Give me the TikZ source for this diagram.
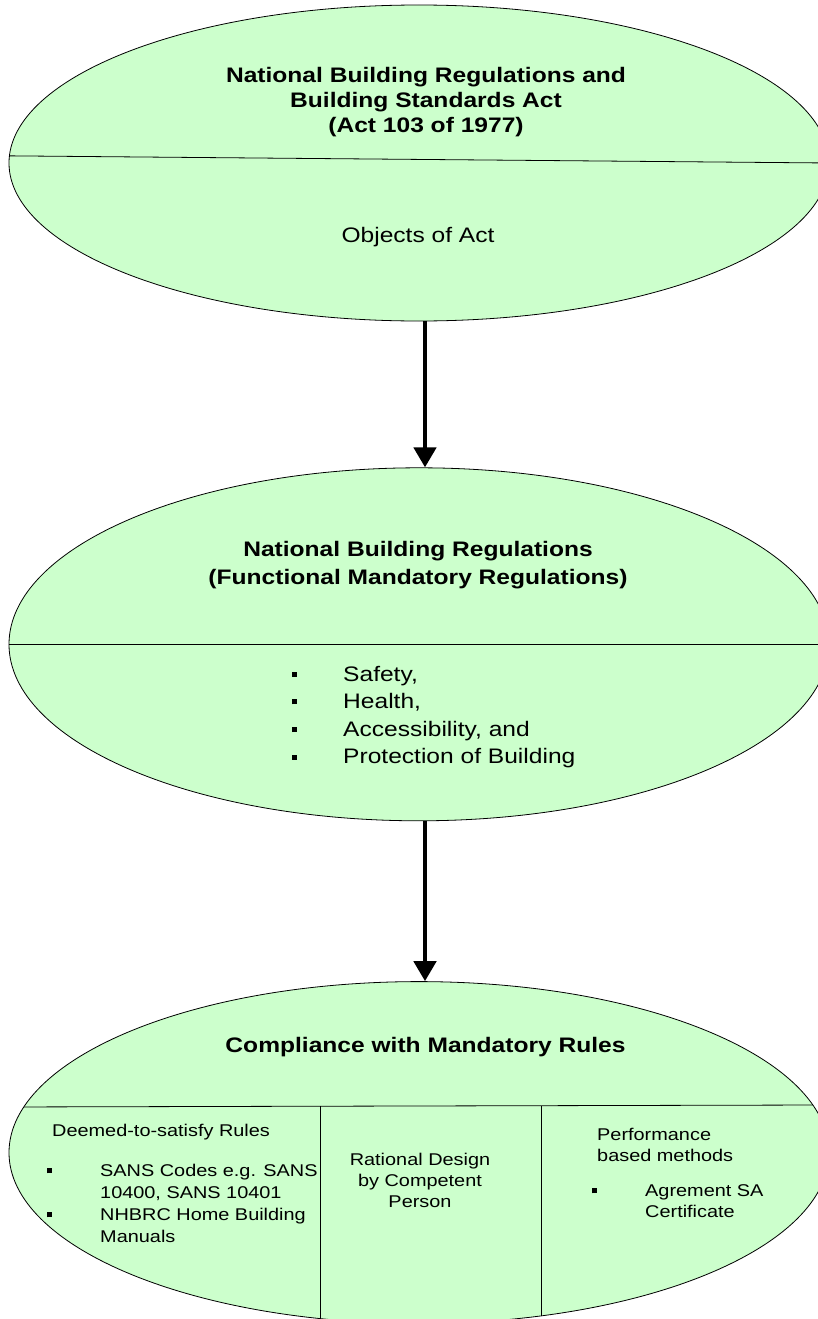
\documentclass[tikz,border=0pt]{standalone}
\usepackage{fontspec}
\setmainfont{Liberation Sans}[FakeStretch=1.17]
\usetikzlibrary{shapes.geometric,arrows.meta,positioning}
\definecolor{ellgreen}{RGB}{204,255,204}
\newcommand{\sqbul}[1]{\makebox[#1][l]{\rule[0.2em]{5pt}{5pt}}}

\begin{document}
\begin{tikzpicture}[x=1pt, y=-1pt,
    oval/.style={ellipse, draw, fill=ellgreen, line width=0.8pt, inner sep=0pt, minimum width=820pt},
    bigtxt/.style={font=\fontsize{21}{25}\selectfont\bfseries, align=center, anchor=base, inner sep=0pt},
    midtxt/.style={font=\fontsize{21}{27.6}\selectfont, align=left, anchor=base west, inner sep=0pt},
    smalltxt/.style={font=\fontsize{17}{22}\selectfont, align=left, anchor=base west, inner sep=0pt},
    bigarrow/.style={line width=4.5pt, -{Triangle[length=20pt,width=22pt]}}]
  \useasboundingbox (0,0) rectangle (818,1319);

  \node[oval, minimum height=316pt] (act) at (419,163) {};
  \node[oval, minimum height=353pt, below=146pt of act] (nbr) {};
  \node[oval, minimum height=342pt, below=160pt of nbr] (comp) {};

  % dividing lines
  \draw[line width=0.8pt] (act.179.2) -- (act.0.3);
  \draw[line width=0.8pt] (nbr.west) -- (nbr.east);
  \begin{scope}
    \clip (comp.center) ellipse [x radius=410, y radius=171];
    \draw[line width=0.8pt] (0,1107) -- (818,1105);
    \draw[line width=0.8pt] (320,1106) -- (320,1330);
    \draw[line width=0.8pt] (541,1106) -- (541,1330);
  \end{scope}

  \draw[bigarrow] ([xshift=6pt]act.south) -- ([xshift=6pt]nbr.north);
  \draw[bigarrow] ([xshift=6pt]nbr.south) -- ([xshift=6pt]comp.north);

  % multi-line nodes sit on the baseline of their last line
  \node[bigtxt] (acttitle) at (426,132.7) {National Building Regulations and\\Building Standards Act\\(Act 103 of 1977)};
  \node[font=\fontsize{21}{25}\selectfont, anchor=base, inner sep=0pt] (actobj) at (418,242.7) {Objects of Act};

  \node[bigtxt, font=\fontsize{21}{27.5}\selectfont\bfseries] (nbrtitle) at (418,584) {National Building Regulations\\(Functional Mandatory Regulations)};
  \node[midtxt] (nbrlist) at (291.5,763.8) {\sqbul{51.5pt}Safety,\\\sqbul{51.5pt}Health,\\\sqbul{51.5pt}Accessibility, and\\\sqbul{51.5pt}Protection of Building};

  \node[bigtxt] (comptitle) at (425.5,1052.7) {Compliance with Mandatory Rules};
  \node[smalltxt] (dtsrules) at (52,1136.7) {Deemed-to-satisfy Rules};
  \node[smalltxt] (dtslist) at (47,1242.7) {\sqbul{53pt}SANS Codes e.g. SANS\\\hspace*{53pt}10400, SANS 10401\\\sqbul{53pt}NHBRC Home Building\\\hspace*{53pt}Manuals};
  \node[smalltxt, font=\fontsize{17}{21}\selectfont, align=center, anchor=base] (rational) at (420,1207) {Rational Design\\by Competent\\Person};
  \node[smalltxt, font=\fontsize{17}{21}\selectfont] (perf) at (597,1161) {Performance\\based methods};
  \node[smalltxt, font=\fontsize{17}{21}\selectfont] (agrement) at (592,1217.7) {\sqbul{53pt}Agrement SA\\\hspace*{53pt}Certificate};
\end{tikzpicture}
\end{document}
